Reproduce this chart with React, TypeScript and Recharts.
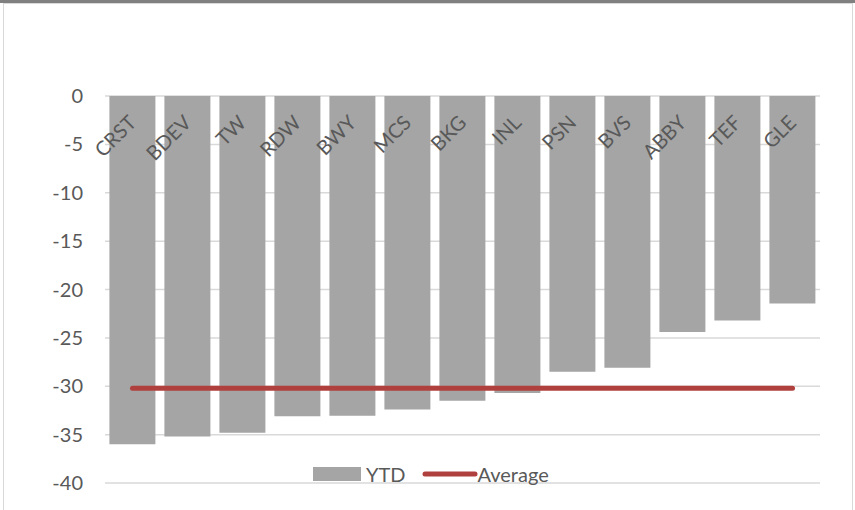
import React from 'react';
import { ComposedChart, Bar, Line, XAxis, YAxis, CartesianGrid, Legend } from 'recharts';

const categories = ['CRST', 'BDEV', 'TW', 'RDW', 'BWY', 'MCS', 'BKG', 'INL', 'PSN', 'BVS', 'ABBY', 'TEF', 'GLE'];
const ytdValues = [-36.0, -35.2, -34.8, -33.1, -33.05, -32.4, -31.5, -30.7, -28.5, -28.1, -24.4, -23.2, -21.45];
const averageValues = [-30.2, -30.2, -30.2, -30.2, -30.2, -30.2, -30.2, -30.2, -30.2, -30.2, -30.2, -30.2, -30.2];
const yTicks = [0, -5, -10, -15, -20, -25, -30, -35, -40];

const data = categories.map((name, i) => ({ name, YTD: ytdValues[i], Average: averageValues[i] }));

const FONT = 'Lato, "Open Sans", sans-serif';
const TEXT = '#595959';
const BAR = '#a5a5a5';
const LINE = '#b0403e';

const CategoryTick = (props: any) => {
  const { x, y, payload } = props;
  const ax = x + 5;
  const ay = y + 36;
  return (
    <text x={ax} y={ay} transform={`rotate(-45, ${ax}, ${ay})`} textAnchor="end" fill={TEXT} fontSize={20} fontFamily={FONT}>
      {payload.value}
    </text>
  );
};

const LegendContent = () => (
  <div style={{ display: 'flex', alignItems: 'center', fontFamily: FONT, fontSize: 20, color: TEXT, lineHeight: '20px' }}>
    <span style={{ display: 'inline-block', width: 48, height: 14, background: BAR, marginRight: 5 }} />
    <span>YTD</span>
    <svg width={56} height={8} style={{ marginLeft: 16, marginRight: 0 }}>
      <line x1={3} y1={4} x2={53} y2={4} stroke={LINE} strokeWidth={5} strokeLinecap="round" />
    </svg>
    <span>Average</span>
  </div>
);

export default function App() {
  return (
    <div style={{ position: 'absolute', left: 0, top: 0, width: 855, height: 510, background: '#fff', overflow: 'hidden' }}>
      <div style={{ position: 'absolute', left: 0, top: 0, width: 855, height: 3, background: '#808080' }} />
      <div style={{ position: 'absolute', left: 3, top: 3, width: 850, height: 510, border: '1px solid #d9d9d9', boxSizing: 'border-box' }} />
      <div style={{ position: 'absolute', left: 0, top: 0 }}>
        <ComposedChart
          width={855}
          height={510}
          data={data}
          margin={{ top: 95, right: 35, bottom: 27, left: 0 }}
          barCategoryGap="8%"
        >
          <CartesianGrid vertical={false} stroke="#d9d9d9" strokeWidth={1.5} />
          <XAxis
            dataKey="name"
            orientation="top"
            height={1}
            axisLine={false}
            tickLine={false}
            interval={0}
            tick={<CategoryTick />}
          />
          <YAxis
            domain={[-40, 0]}
            ticks={yTicks}
            width={105}
            axisLine={false}
            tickLine={false}
            tickMargin={16}
            tick={{ fill: TEXT, fontSize: 20, fontFamily: FONT }}
            interval={0}
          />
          <Bar dataKey="YTD" fill={BAR} isAnimationActive={false} />
          <Line
            dataKey="Average"
            stroke={LINE}
            strokeWidth={5}
            strokeLinecap="round"
            dot={false}
            activeDot={false}
            isAnimationActive={false}
          />
          <Legend
            layout="horizontal"
            verticalAlign="middle"
            align="center"
            wrapperStyle={{ top: 464, left: 313, width: 260 }}
            content={<LegendContent />}
          />
        </ComposedChart>
      </div>
    </div>
  );
}
